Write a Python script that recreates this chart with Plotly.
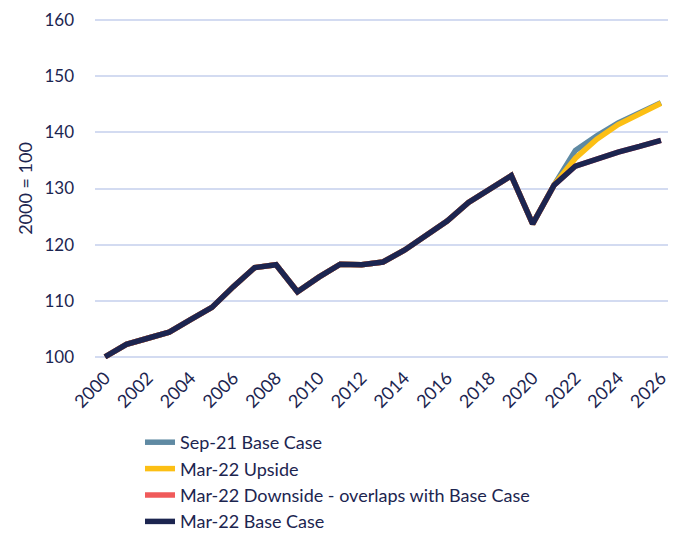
import plotly.graph_objects as go

years = list(range(2000, 2027))

history = [100.0, 102.2, 103.3, 104.4, 106.6, 108.8, 112.5, 115.9, 116.4, 111.6,
           114.2, 116.5, 116.4, 116.9, 119.0, 121.7, 124.2, 127.5, 130.0, 132.3,
           123.7, 130.6]

sep21_base = history + [136.8, 139.4, 141.7, 143.6, 145.3]
mar22_upside = history + [135.4, 138.8, 141.4, 143.4, 145.2]
mar22_downside = history + [134.0, 135.3, 136.5, 137.5, 138.6]
mar22_base = history + [134.0, 135.3, 136.5, 137.5, 138.6]

y_ticks = [100, 110, 120, 130, 140, 150, 160]
x_ticks = list(range(2000, 2027, 2))

navy = "#1c2550"
font_family = "Lato, Roboto, sans-serif"

series = [
    ("Sep-21 Base Case", sep21_base, "#5f8aa3"),
    ("Mar-22 Upside", mar22_upside, "#fcbf14"),
    ("Mar-22 Downside - overlaps with Base Case", mar22_downside, "#f05a5a"),
    ("Mar-22 Base Case", mar22_base, navy),
]

fig = go.Figure()
for name, vals, color in series:
    fig.add_trace(go.Scatter(
        x=years, y=vals, name=name, mode="lines",
        line=dict(color=color, width=5.5, shape="linear"),
    ))

W, H = 672, 534
L, R, T, B = 87, 12, 10, 183
plot_w = W - L - R
plot_h = H - T - B

fig.update_layout(
    width=W, height=H,
    margin=dict(l=L, r=R, t=T, b=B, autoexpand=False),
    paper_bgcolor="white", plot_bgcolor="white",
    font=dict(family=font_family, color=navy, size=18),
    showlegend=True,
    legend=dict(
        x=(132 - L) / plot_w, y=(plot_h + T - 416) / plot_h,
        xanchor="left", yanchor="top",
        font=dict(size=18, color=navy),
        tracegroupgap=0, itemwidth=30,
        bgcolor="rgba(0,0,0,0)",
    ),
    xaxis=dict(
        range=[1999.53, 2026.33],
        tickmode="array", tickvals=x_ticks, ticktext=[str(v) for v in x_ticks],
        tickangle=-45, showgrid=False, zeroline=False, showline=False,
        ticks="", ticklabelstandoff=4, ticklabeloverflow="allow",
        tickfont=dict(size=18, color=navy),
    ),
    yaxis=dict(
        range=[99.6, 160.4],
        tickmode="array", tickvals=y_ticks, ticktext=[str(v) for v in y_ticks],
        showgrid=True, gridcolor="#d3dbf1", gridwidth=2,
        zeroline=False, showline=False, ticks="", ticklabelstandoff=20,
        ticklabeloverflow="allow",
        tickfont=dict(size=17, color=navy),
        title=dict(text="2000 = 100", font=dict(size=18, color=navy), standoff=7),
    ),
)

fig.write_html("out.html")
